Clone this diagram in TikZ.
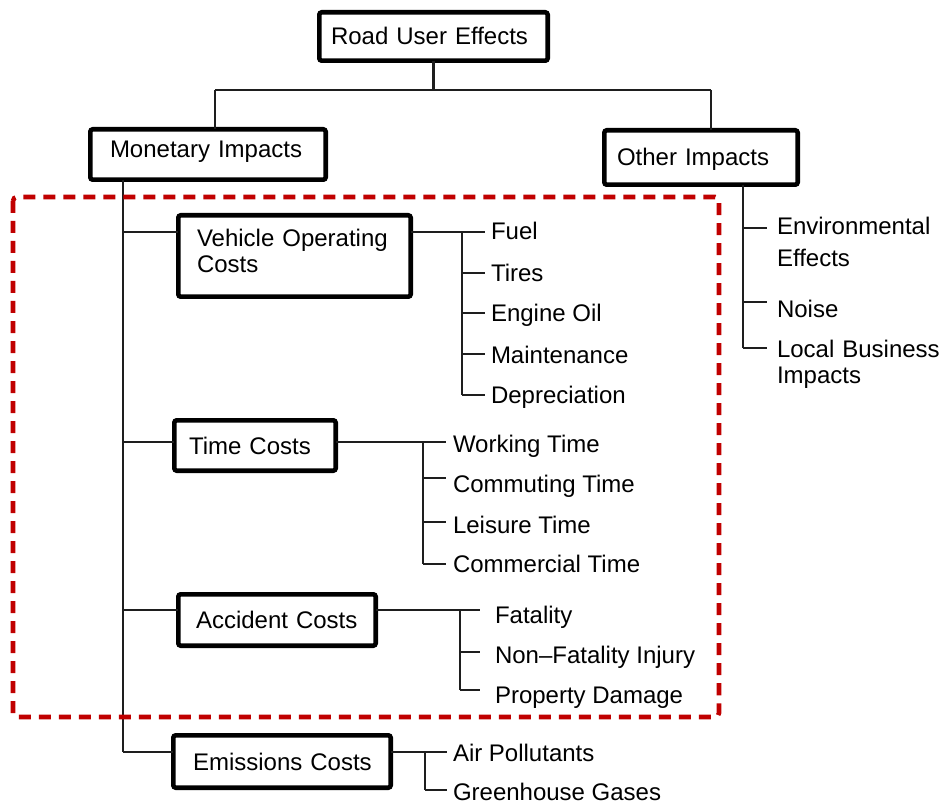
\documentclass[tikz,border=0pt]{standalone}
\usepackage{fontspec}
\setmainfont{Liberation Sans}
\definecolor{dred}{HTML}{C00000}
\definecolor{lineblk}{HTML}{1E1E1E}
\begin{document}
\begin{tikzpicture}[x=1pt,y=-1pt,
  every node/.style={font=\fontsize{24}{26}\selectfont, inner sep=0pt, outer sep=0pt},
  box/.style={draw=black, line width=4.6pt, rounded corners=2.5pt, align=left,
              anchor=north west, inner ysep=0pt, text height=17pt, text depth=0pt},
  conn/.style={line width=2.3pt, draw=lineblk},
  leaf/.style={anchor=base west, inner xsep=#1},
  redbox/.style={draw=dred, line width=4.6pt, dash pattern=on 12pt off 8pt, rounded corners=4pt}]
\useasboundingbox (0,0) rectangle (943,805);

% ---- boxes ----
\node[box, minimum width=228.4pt, minimum height=48.4pt, inner xsep=11.7pt, text width=205pt]
  (rue) at (319.3,12.3) {\mbox{Road User Effects}};
\node[box, minimum width=235.4pt, minimum height=50.4pt, inner xsep=19.7pt, text width=196pt, text depth=11pt]
  (mon) at (90.3,129.3) {\mbox{Monetary Impacts}};
\node[box, minimum width=193.4pt, minimum height=54.4pt, inner xsep=12.7pt, text width=168pt]
  (oth) at (604.3,130.3) {\mbox{Other Impacts}};
\node[box, minimum width=232.4pt, minimum height=81.4pt, inner xsep=18.7pt, text width=195pt, text depth=35pt]
  (voc) at (178.3,215.3) {\mbox{Vehicle Operating}\\Costs};
\node[box, minimum width=161.4pt, minimum height=50.4pt, inner xsep=14.7pt, text width=132pt]
  (time) at (174.3,420.3) {\mbox{Time Costs}};
\node[box, minimum width=197.4pt, minimum height=51.4pt, inner xsep=17.7pt, text width=162pt]
  (acc) at (178.3,594.3) {\mbox{Accident Costs}};
\node[box, minimum width=217.4pt, minimum height=52.4pt, inner xsep=19.7pt, text width=178pt]
  (emi) at (173.3,735.3) {\mbox{Emissions Costs}};

% ---- top connectors ----
\coordinate (j1) at (215,90);
\coordinate (j2) at (711,90);
\draw[conn] (rue.south) -- (rue.south |- j1);
\draw[conn] (j1) -- (j2);
\draw[conn] (j1) -- (j1 |- mon.north);
\draw[conn] (j2) -- (j2 |- oth.north);

% ---- trunk ----
\coordinate (t1) at (123,232);
\coordinate (t2) at (123,442);
\coordinate (t3) at (123,610);
\coordinate (t4) at (123,752);
\draw[conn] (t4 |- mon.south) -- (t4);
\draw[conn] (t1) -- (t1 -| voc.west);
\draw[conn] (t2) -- (t2 -| time.west);
\draw[conn] (t3) -- (t3 -| acc.west);
\draw[conn] (t4) -- (t4 -| emi.west);

% ---- other impacts ----
\coordinate (o1) at (743,228);
\coordinate (o2) at (743,302);
\coordinate (o3) at (743,348);
\node[leaf=10pt, text width=165pt, align=left] (env) at (767,235) {Environmental\\[6pt]Effects};
\node[leaf=10pt] (noise) at (767,317) {Noise};
\node[leaf=10pt, text width=165pt, align=left] (lbi) at (767,357) {\mbox{Local Business}\\Impacts};
\draw[conn] (o3 |- oth.south) -- (o3);
\draw[conn] (o1) -- (o1 -| env.west);
\draw[conn] (o2) -- (o2 -| noise.west);
\draw[conn] (o3) -- (o3 -| lbi.west);

% ---- vehicle operating costs ----
\coordinate (v1) at (462,232);
\coordinate (v2) at (462,273);
\coordinate (v3) at (462,313);
\coordinate (v4) at (462,354);
\coordinate (v5) at (462,395);
\node[leaf=6pt] (fuel) at (485,240) {Fuel};
\node[leaf=6pt] (tires) at (485,282) {Tires};
\node[leaf=6pt] (oil) at (485,322) {Engine Oil};
\node[leaf=6pt] (maint) at (485,363) {Maintenance};
\node[leaf=6pt] (depr) at (485,403) {Depreciation};
\draw[conn] (voc.east |- v1) -- (v1);
\draw[conn] (v1) -- (v5);
\draw[conn] (v1) -- (v1 -| fuel.west);
\draw[conn] (v2) -- (v2 -| tires.west);
\draw[conn] (v3) -- (v3 -| oil.west);
\draw[conn] (v4) -- (v4 -| maint.west);
\draw[conn] (v5) -- (v5 -| depr.west);

% ---- time costs ----
\coordinate (s1) at (423,442);
\coordinate (s2) at (423,478);
\coordinate (s3) at (423,522);
\coordinate (s4) at (423,564);
\node[leaf=7pt] (work) at (446,452) {Working Time};
\node[leaf=7pt] (comm) at (446,492) {Commuting Time};
\node[leaf=7pt] (leis) at (446,533) {Leisure Time};
\node[leaf=7pt] (cmrc) at (446,572) {Commercial Time};
\draw[conn] (time.east |- s1) -- (s1);
\draw[conn] (s1) -- (s4);
\draw[conn] (s1) -- (s1 -| work.west);
\draw[conn] (s2) -- (s2 -| comm.west);
\draw[conn] (s3) -- (s3 -| leis.west);
\draw[conn] (s4) -- (s4 -| cmrc.west);

% ---- accident costs ----
\coordinate (a1) at (460,610);
\coordinate (a2) at (460,652);
\coordinate (a3) at (460,690);
\node[leaf=15pt] (fat) at (480,623) {Fatality};
\node[leaf=15pt] (inj) at (480,663) {Non–Fatality Injury};
\node[leaf=15pt] (prop) at (480,703) {Property Damage};
\draw[conn] (acc.east |- a1) -- (a1);
\draw[conn] (a1) -- (a3);
\draw[conn] (a1) -- (a1 -| fat.west);
\draw[conn] (a2) -- (a2 -| inj.west);
\draw[conn] (a3) -- (a3 -| prop.west);

% ---- emissions costs ----
\coordinate (e1) at (425,752);
\coordinate (e2) at (425,790);
\node[leaf=6pt] (air) at (447,761) {Air Pollutants};
\node[leaf=6pt] (ghg) at (447,800) {Greenhouse Gases};
\draw[conn] (emi.east |- e1) -- (e1);
\draw[conn] (e1) -- (e2);
\draw[conn] (e1) -- (e1 -| air.west);
\draw[conn] (e2) -- (e2 -| ghg.west);

% ---- dashed focus frame ----
\draw[redbox] (13,197) rectangle (719,717);
\end{tikzpicture}
\end{document}
